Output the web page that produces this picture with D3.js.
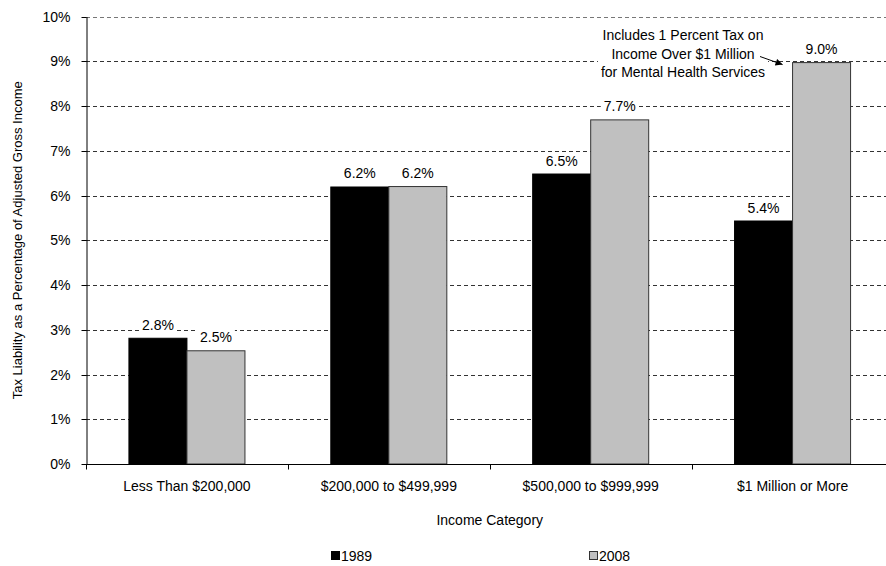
<!DOCTYPE html>
<html>
<head>
<meta charset="utf-8">
<script src="https://cdn.jsdelivr.net/npm/d3@7"></script>
<style>
  html, body { margin: 0; padding: 0; background: #fff; }
  svg { display: block; }
  text { font-family: "Liberation Sans Narrow", "Arial Narrow", "Liberation Sans", sans-serif; fill: #000; }
</style>
</head>
<body>
<svg id="chart" width="886" height="566"></svg>
<script>
const categories = ["Less Than $200,000", "$200,000 to $499,999", "$500,000 to $999,999", "$1 Million or More"];
const seriesNames = ["1989", "2008"];
const values1989 = [2.81, 6.19, 6.48, 5.43];
const values2008 = [2.53, 6.20, 7.69, 8.97];
const yTicks = [0, 1, 2, 3, 4, 5, 6, 7, 8, 9, 10];
const colors = ["#000000", "#c0c0c0"];
const annotationLines = ["Includes 1 Percent Tax on", "Income Over $1 Million", "for Mental Health Services"];
const yTitle = "Tax Liability as a Percentage of Adjusted Gross Income";
const xTitle = "Income Category";

const svg = d3.select("#chart");
const mLeft = 86, mRight = 893.5, mTop = 16.5, mBottom = 464;

const x0 = d3.scaleBand().domain(categories).range([mLeft, mRight]).padding(0);
const x1 = d3.scaleBand().domain(seriesNames).range([0, x0.bandwidth()]).paddingInner(0).paddingOuter(0.74);
const y = d3.scaleLinear().domain([0, 10]).range([mBottom, mTop]);

const defs = svg.append("defs");
defs.append("marker").attr("id", "arrow").attr("viewBox", "0 0 10 10")
  .attr("refX", 10).attr("refY", 5).attr("markerWidth", 9).attr("markerHeight", 7)
  .attr("markerUnits", "userSpaceOnUse").attr("orient", "auto")
  .append("path").attr("d", "M0,0 L10,5 L0,10 z").attr("fill", "#000");

// gridlines
svg.append("g").selectAll("line").data(yTicks.filter(d => d > 0)).join("line")
  .attr("x1", mLeft).attr("x2", mRight + 10)
  .attr("y1", d => Math.round(y(d)) + 0.5).attr("y2", d => Math.round(y(d)) + 0.5)
  .attr("stroke", d => d === 10 ? "#777" : "#333").attr("stroke-width", 1).attr("stroke-dasharray", "4,3");

// y axis
const yAxis = svg.append("g").attr("transform", `translate(${mLeft + 0.5},0)`)
  .call(d3.axisLeft(y).tickValues(yTicks).tickFormat(d => d + "%").tickSize(5).tickSizeOuter(0));
yAxis.select(".domain").attr("stroke", "#000");
yAxis.selectAll(".tick line").attr("stroke", "#000");
yAxis.selectAll(".tick").attr("transform", d => `translate(0,${Math.round(y(d)) + 0.5})`);
yAxis.selectAll("text").attr("x", -16).attr("font-size", 14).attr("font-family", null);

// bars
const series = [values1989, values2008];
const groups = svg.append("g").selectAll("g").data(categories).join("g")
  .attr("transform", d => `translate(${x0(d)},0)`);
groups.selectAll("rect.bar").data((d, i) => seriesNames.map((s, j) => ({ s, v: series[j][i], j })))
  .join("rect").attr("class", "bar")
  .attr("x", d => x1(d.s)).attr("width", x1.bandwidth())
  .attr("y", d => y(d.v)).attr("height", d => y(0) - y(d.v))
  .attr("fill", d => colors[d.j]).attr("stroke", d => d.j === 0 ? "#000" : "#333").attr("stroke-width", 1);
const lblG = groups.selectAll("g.lbl").data((d, i) => seriesNames.map((s, j) => ({ s, v: series[j][i], j })))
  .join("g").attr("class", "lbl");
const lblBg = lblG.append("rect").attr("fill", "#fff");
const lblText = lblG.append("text")
  .attr("x", d => x1(d.s) + x1.bandwidth() / 2).attr("y", d => y(d.v) - 8.5)
  .attr("text-anchor", "middle").attr("font-size", 14)
  .text(d => d3.format(".1f")(d.v) + "%");
lblText.each(function () {
  const b = this.getBBox();
  d3.select(this.parentNode).select("rect")
    .attr("x", b.x - 3).attr("y", b.y).attr("width", b.width + 6).attr("height", b.height);
});

// x axis
const xAxis = svg.append("g").attr("transform", `translate(0,${mBottom + 0.5})`);
xAxis.append("line").attr("x1", mLeft).attr("x2", mRight + 10).attr("stroke", "#000");
xAxis.selectAll("line.tk").data(d3.range(categories.length + 1)).join("line").attr("class", "tk")
  .attr("x1", i => Math.round(mLeft + i * x0.step()) + 0.5).attr("x2", i => Math.round(mLeft + i * x0.step()) + 0.5)
  .attr("y1", 0).attr("y2", 5).attr("stroke", "#000");
xAxis.selectAll("text").data(categories).join("text")
  .attr("x", d => x0(d) + x0.bandwidth() / 2).attr("y", 26)
  .attr("text-anchor", "middle").attr("font-size", 14).text(d => d);

// axis titles
svg.append("text").attr("transform", `translate(22,${(mTop + mBottom) / 2}) rotate(-90)`)
  .attr("text-anchor", "middle").attr("font-size", 13).text(yTitle);
svg.append("text").attr("x", (mLeft + mRight) / 2).attr("y", 525)
  .attr("text-anchor", "middle").attr("font-size", 14).text(xTitle);

// annotation
const annBg = svg.append("rect").attr("fill", "#fff");
const ann = svg.append("text").attr("text-anchor", "middle").attr("font-size", 14);
annotationLines.forEach((t, i) => ann.append("tspan").attr("x", 683).attr("y", 40 + i * 18.7).text(t));
const ab = ann.node().getBBox();
annBg.attr("x", ab.x - 3).attr("y", ab.y).attr("width", ab.width + 6).attr("height", ab.height);
const lastBar = x0(categories[3]) + x1(seriesNames[1]);
svg.append("line").attr("x1", 760).attr("y1", 56.5).attr("x2", lastBar - 10).attr("y2", y(values2008[3]) + 2)
  .attr("stroke", "#000").attr("stroke-width", 1).attr("marker-end", "url(#arrow)");

// legend
const legendX = [331, 589];
const lg = svg.append("g").selectAll("g").data(seriesNames).join("g")
  .attr("transform", (d, i) => `translate(${legendX[i]},557)`);
lg.append("rect").attr("x", 0.5).attr("y", -5.5).attr("width", 8).attr("height", 8)
  .attr("fill", (d, i) => colors[i]).attr("stroke", (d, i) => i === 0 ? "#000" : "#333");
lg.append("text").attr("x", 10).attr("y", 4).attr("font-size", 14).text(d => d);
</script>
</body>
</html>
